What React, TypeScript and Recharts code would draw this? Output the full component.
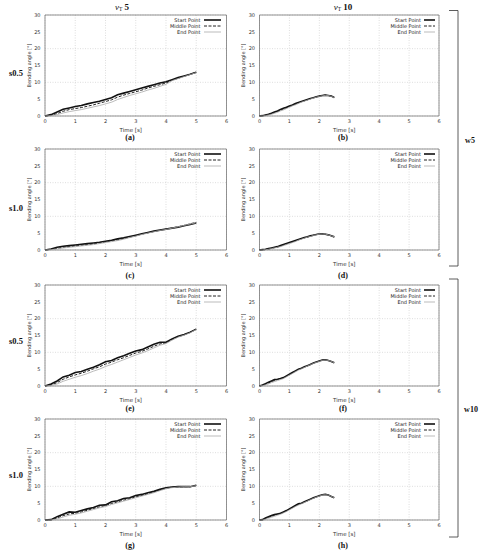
import React from "react";
import {
  LineChart,
  Line,
  XAxis,
  YAxis,
  CartesianGrid,
  ReferenceArea,
  Legend,
} from "recharts";

// time axes (s)
const timeSlow = [0, 0.2, 0.4, 0.6, 0.8, 1.0, 1.2, 1.4, 1.6, 1.8, 2.0, 2.2, 2.4, 2.6, 2.8, 3.0, 3.2, 3.4, 3.6, 3.8, 4.0, 4.2, 4.4, 4.6, 4.8, 5.0];
const timeFast = [0, 0.1, 0.2, 0.3, 0.4, 0.5, 0.6, 0.7, 0.8, 0.9, 1.0, 1.1, 1.2, 1.3, 1.4, 1.5, 1.6, 1.7, 1.8, 1.9, 2.0, 2.1, 2.2, 2.3, 2.4, 2.5];

// bending angle (deg) per panel
const startA = [0, 0.4, 1.2, 2.0, 2.4, 2.8, 3.1, 3.6, 4.0, 4.4, 4.9, 5.4, 6.3, 6.8, 7.3, 7.8, 8.3, 8.8, 9.3, 9.8, 10.2, 10.8, 11.4, 11.9, 12.4, 13.0];
const middleA = [0, 0.2, 0.7, 1.4, 1.9, 2.2, 2.5, 2.9, 3.3, 3.8, 4.3, 4.8, 5.6, 6.2, 6.7, 7.2, 7.7, 8.3, 8.8, 9.3, 9.8, 10.6, 11.2, 11.8, 12.4, 13.0];
const endA = [0, 0.1, 0.4, 0.9, 1.3, 1.6, 1.9, 2.3, 2.7, 3.1, 3.6, 4.1, 4.9, 5.5, 6.1, 6.6, 7.1, 7.7, 8.2, 8.8, 9.4, 10.5, 11.1, 11.7, 12.3, 12.9];

const startB = [0, 0.1, 0.3, 0.5, 0.8, 1.2, 1.5, 1.9, 2.3, 2.6, 3.0, 3.3, 3.7, 4.0, 4.3, 4.6, 4.9, 5.2, 5.4, 5.7, 5.9, 6.1, 6.2, 6.1, 5.9, 5.5];
const middleB = [0, 0.05, 0.2, 0.4, 0.7, 1.0, 1.3, 1.7, 2.1, 2.4, 2.8, 3.2, 3.5, 3.9, 4.2, 4.5, 4.8, 5.1, 5.4, 5.6, 5.9, 6.1, 6.2, 6.1, 5.9, 5.5];
const endB = [0, 0, 0.1, 0.3, 0.5, 0.8, 1.1, 1.5, 1.8, 2.2, 2.6, 3.0, 3.3, 3.7, 4.1, 4.4, 4.7, 5.0, 5.3, 5.6, 5.8, 6.0, 6.1, 6.1, 5.8, 5.5];

const startC = [0, 0.3, 0.8, 1.1, 1.3, 1.5, 1.7, 1.9, 2.1, 2.3, 2.6, 2.9, 3.3, 3.6, 4.0, 4.4, 4.8, 5.2, 5.6, 5.9, 6.2, 6.5, 6.8, 7.2, 7.6, 8.0];
const middleC = [0, 0.2, 0.5, 0.8, 1.0, 1.2, 1.4, 1.6, 1.8, 2.1, 2.4, 2.7, 3.0, 3.4, 3.8, 4.2, 4.7, 5.1, 5.5, 5.9, 6.2, 6.5, 6.9, 7.3, 7.8, 8.2];
const endC = [0, 0.1, 0.3, 0.6, 0.8, 1.0, 1.2, 1.4, 1.6, 1.9, 2.2, 2.5, 2.8, 3.2, 3.7, 4.1, 4.6, 5.0, 5.4, 5.8, 6.1, 6.5, 6.9, 7.3, 7.7, 8.1];

const startD = [0, 0.1, 0.2, 0.4, 0.6, 0.8, 1.0, 1.3, 1.6, 1.9, 2.2, 2.5, 2.8, 3.1, 3.4, 3.7, 3.9, 4.2, 4.4, 4.6, 4.75, 4.8, 4.7, 4.5, 4.2, 3.9];
const middleD = [0, 0.05, 0.15, 0.3, 0.5, 0.7, 0.9, 1.2, 1.5, 1.8, 2.1, 2.4, 2.7, 3.0, 3.3, 3.6, 3.9, 4.1, 4.4, 4.6, 4.75, 4.8, 4.7, 4.5, 4.2, 3.9];
const endD = [0, 0, 0.1, 0.2, 0.4, 0.6, 0.8, 1.0, 1.3, 1.6, 1.9, 2.2, 2.5, 2.9, 3.2, 3.5, 3.8, 4.0, 4.3, 4.5, 4.7, 4.75, 4.7, 4.5, 4.2, 3.9];

const startE = [0, 0.6, 1.5, 2.7, 3.2, 4.0, 4.3, 5.0, 5.6, 6.3, 7.2, 7.6, 8.4, 9.0, 9.7, 10.4, 10.8, 11.6, 12.4, 13.0, 13.0, 14.0, 14.8, 15.3, 16.0, 16.9];
const middleE = [0, 0.3, 1.0, 2.0, 2.7, 3.3, 3.8, 4.4, 5.1, 5.7, 6.5, 7.1, 7.8, 8.4, 9.1, 9.8, 10.3, 11.0, 11.8, 12.5, 12.8, 13.8, 14.6, 15.2, 15.9, 16.9];
const endE = [0, 0.1, 0.6, 1.4, 2.0, 2.6, 3.1, 3.7, 4.4, 5.0, 5.8, 6.4, 7.1, 7.8, 8.5, 9.2, 9.8, 10.5, 11.3, 12.1, 12.6, 13.6, 14.5, 15.1, 15.8, 16.8];

const startF = [0, 0.3, 0.7, 1.1, 1.5, 1.9, 2.0, 2.2, 2.5, 3.0, 3.5, 4.0, 4.5, 5.0, 5.3, 5.7, 6.0, 6.4, 6.8, 7.1, 7.4, 7.7, 7.8, 7.6, 7.3, 6.9];
const middleF = [0, 0.2, 0.5, 0.9, 1.3, 1.6, 1.9, 2.1, 2.4, 2.9, 3.4, 3.9, 4.4, 4.9, 5.2, 5.6, 6.0, 6.4, 6.8, 7.1, 7.4, 7.7, 7.8, 7.6, 7.3, 6.9];
const endF = [0, 0.1, 0.3, 0.6, 1.0, 1.3, 1.6, 1.9, 2.2, 2.7, 3.2, 3.7, 4.2, 4.7, 5.1, 5.5, 5.9, 6.3, 6.7, 7.0, 7.3, 7.6, 7.7, 7.6, 7.3, 6.9];

const startG = [0, 0.1, 1.0, 1.7, 2.4, 2.3, 2.8, 3.3, 3.7, 4.4, 4.5, 5.4, 5.7, 6.4, 6.6, 7.3, 7.6, 8.1, 8.5, 9.1, 9.6, 9.8, 9.9, 9.9, 9.9, 10.3];
const middleG = [0, 0.05, 0.6, 1.3, 1.8, 2.0, 2.4, 2.9, 3.4, 3.9, 4.3, 4.9, 5.4, 5.9, 6.3, 6.9, 7.3, 7.8, 8.3, 8.9, 9.4, 9.7, 9.8, 9.9, 9.9, 10.2];
const endG = [0, 0, 0.3, 0.9, 1.4, 1.7, 2.1, 2.6, 3.1, 3.6, 4.0, 4.6, 5.1, 5.6, 6.1, 6.6, 7.1, 7.6, 8.1, 8.7, 9.3, 9.6, 9.8, 9.9, 9.9, 10.2];

const startH = [0, 0.1, 0.6, 1.0, 1.3, 1.6, 1.8, 2.0, 2.4, 2.8, 3.3, 3.8, 4.3, 4.8, 5.0, 5.4, 5.8, 6.2, 6.6, 6.9, 7.2, 7.5, 7.6, 7.4, 7.0, 6.6];
const middleH = [0, 0.05, 0.4, 0.8, 1.1, 1.4, 1.7, 1.9, 2.3, 2.7, 3.2, 3.7, 4.2, 4.6, 4.9, 5.3, 5.7, 6.1, 6.5, 6.8, 7.2, 7.5, 7.6, 7.4, 7.0, 6.6];
const endH = [0, 0, 0.2, 0.5, 0.8, 1.1, 1.4, 1.7, 2.1, 2.5, 3.0, 3.5, 4.0, 4.4, 4.8, 5.2, 5.6, 6.0, 6.4, 6.8, 7.1, 7.4, 7.5, 7.4, 7.0, 6.6];

const xTicks = [0, 1, 2, 3, 4, 5, 6];
const yTicks = [0, 5, 10, 15, 20, 25, 30];
const rowLabels = ["s0.5", "s1.0", "s0.5", "s1.0"];
const captions = ["(a)", "(b)", "(c)", "(d)", "(e)", "(f)", "(g)", "(h)"];

const panels = [
  { time: timeSlow, start: startA, middle: middleA, end: endA },
  { time: timeFast, start: startB, middle: middleB, end: endB },
  { time: timeSlow, start: startC, middle: middleC, end: endC },
  { time: timeFast, start: startD, middle: middleD, end: endD },
  { time: timeSlow, start: startE, middle: middleE, end: endE },
  { time: timeFast, start: startF, middle: middleF, end: endF },
  { time: timeSlow, start: startG, middle: middleG, end: endG },
  { time: timeFast, start: startH, middle: middleH, end: endH },
];

const SERIES = [
  { key: "start", name: "Start Point", stroke: "#111", width: 1.6, dash: undefined },
  { key: "middle", name: "Middle Point", stroke: "#222", width: 1, dash: "3 1.5" },
  { key: "end", name: "End Point", stroke: "#aaa", width: 0.8, dash: undefined },
];

const SANS = "DejaVu Sans, sans-serif";
const SERIF = "Liberation Serif, serif";
const plotTops = [15, 149, 285, 419];
const PLOT_H = 101;

// column geometry: chart left, chart width, y-axis width, right margin, legend sample width
const COLS = [
  { left: 0, width: 240, yw: 45, right: 13.5, sample: 17, legendRight: 19.5 },
  { left: 240, width: 239, yw: 19.5, right: 40, sample: 11, legendRight: 44 },
];

function PanelLegend({ sample }: { sample: number }) {
  return (
    <div
      style={{
        display: "flex",
        flexDirection: "column",
        alignItems: "flex-end",
        fontFamily: SANS,
        fontSize: 5,
        lineHeight: "6.3px",
        color: "#222",
      }}
    >
      {SERIES.map((s) => (
        <div key={s.key} style={{ display: "flex", alignItems: "center", height: 6.3 }}>
          <span>{s.name}</span>
          <svg width={sample + 3} height={6} style={{ display: "block" }}>
            <line x1={3} x2={sample + 3} y1={3} y2={3} stroke={s.stroke} strokeWidth={s.width} strokeDasharray={s.dash} />
          </svg>
        </div>
      ))}
    </div>
  );
}

function Panel({ idx }: { idx: number }) {
  const p = panels[idx];
  const col = COLS[idx % 2];
  const row = Math.floor(idx / 2);
  const data = p.time.map((t, i) => ({ t, start: p.start[i], middle: p.middle[i], end: p.end[i] }));
  const top = plotTops[row] - 10;

  return (
    <div style={{ position: "absolute", left: col.left, top }}>
      <LineChart
        width={col.width}
        height={10 + PLOT_H + 10 + 10}
        data={data}
        margin={{ top: 10, right: col.right, bottom: 10, left: 0 }}
      >
        <CartesianGrid stroke="#c8c8c8" strokeDasharray="1 1.5" strokeWidth={0.6} />
        <XAxis
          dataKey="t"
          type="number"
          domain={[0, 6]}
          ticks={xTicks}
          height={10}
          axisLine={false}
          tickLine={false}
          tickSize={0}
          tickMargin={3.5}
          tick={{ fontSize: 5, fill: "#333", fontFamily: SANS }}
          label={{
            content: (props: any) => {
              const vb = props.viewBox;
              return (
                <text x={vb.x + vb.width / 2 - 5} y={vb.y + 16} textAnchor="middle" fontSize={5.5} fill="#333" fontFamily={SANS}>
                  Time [s]
                </text>
              );
            },
          }}
        />
        <YAxis
          type="number"
          domain={[0, 30]}
          ticks={yTicks}
          width={col.yw}
          axisLine={false}
          tickLine={false}
          tickSize={0}
          tickMargin={4.5}
          tick={{ fontSize: 5, fill: "#333", fontFamily: SANS }}
          label={{
            content: (props: any) => {
              const vb = props.viewBox;
              const x = vb.x + vb.width - 16.5;
              const y = vb.y + vb.height / 2;
              return (
                <text x={x} y={y} transform={`rotate(-90 ${x} ${y})`} textAnchor="middle" dominantBaseline="central" fontSize={5} fill="#333" fontFamily={SANS}>
                  Bending angle [°]
                </text>
              );
            },
          }}
        />
        <ReferenceArea x1={0} x2={6} y1={0} y2={30} fill="none" stroke="#777" strokeWidth={0.8} ifOverflow="visible" />
        <Legend
          layout="vertical"
          align="center"
          verticalAlign="middle"
          wrapperStyle={{ top: 11.5, right: col.legendRight, left: "auto", width: "auto", height: "auto" }}
          content={() => <PanelLegend sample={col.sample} />}
        />
        {SERIES.map((s) => (
          <Line
            key={s.key}
            type="linear"
            dataKey={s.key}
            name={s.name}
            stroke={s.stroke}
            strokeWidth={s.width}
            strokeDasharray={s.dash}
            dot={false}
            isAnimationActive={false}
          />
        ))}
      </LineChart>
    </div>
  );
}

function Decorations() {
  const rowLabelY = [76, 211, 344, 478];
  const captionY = [139.5, 278, 411, 548];
  return (
    <svg width={479} height={550} style={{ position: "absolute", left: 0, top: 0, pointerEvents: "none" }}>
      <text x={122} y={9.5} textAnchor="middle" fontFamily={SERIF} fontSize={9} fill="#111">
        <tspan fontStyle="italic">v</tspan>
        <tspan fontSize={5.5} dy={1.5}>T</tspan>
        <tspan dy={-1.5} fontWeight="bold"> 5</tspan>
      </text>
      <text x={343} y={9.5} textAnchor="middle" fontFamily={SERIF} fontSize={9} fill="#111">
        <tspan fontStyle="italic">v</tspan>
        <tspan fontSize={5.5} dy={1.5}>T</tspan>
        <tspan dy={-1.5} fontWeight="bold"> 10</tspan>
      </text>
      {rowLabels.map((l, i) => (
        <text key={i} x={16} y={rowLabelY[i]} textAnchor="middle" fontFamily={SERIF} fontWeight="bold" fontSize={8.5} fill="#111">
          {l}
        </text>
      ))}
      {captions.map((c, i) => (
        <text
          key={c}
          x={i % 2 === 0 ? 130 : 343}
          y={captionY[Math.floor(i / 2)]}
          textAnchor="middle"
          fontFamily={SERIF}
          fontWeight="bold"
          fontSize={8}
          fill="#111"
        >
          {c}
        </text>
      ))}
      <path d="M449 10.5 H458 V266 H449" fill="none" stroke="#333" strokeWidth={0.8} />
      <path d="M449 279 H458 V537 H449" fill="none" stroke="#333" strokeWidth={0.8} />
      <text x={470} y={143} textAnchor="middle" fontFamily={SERIF} fontWeight="bold" fontSize={8} fill="#111">w5</text>
      <text x={471} y={412} textAnchor="middle" fontFamily={SERIF} fontWeight="bold" fontSize={8} fill="#111">w10</text>
    </svg>
  );
}

export default function App() {
  return (
    <div style={{ position: "absolute", left: 0, top: 0, width: 479, height: 550, background: "#fff" }}>
      {panels.map((_, i) => (
        <Panel key={i} idx={i} />
      ))}
      <Decorations />
    </div>
  );
}
